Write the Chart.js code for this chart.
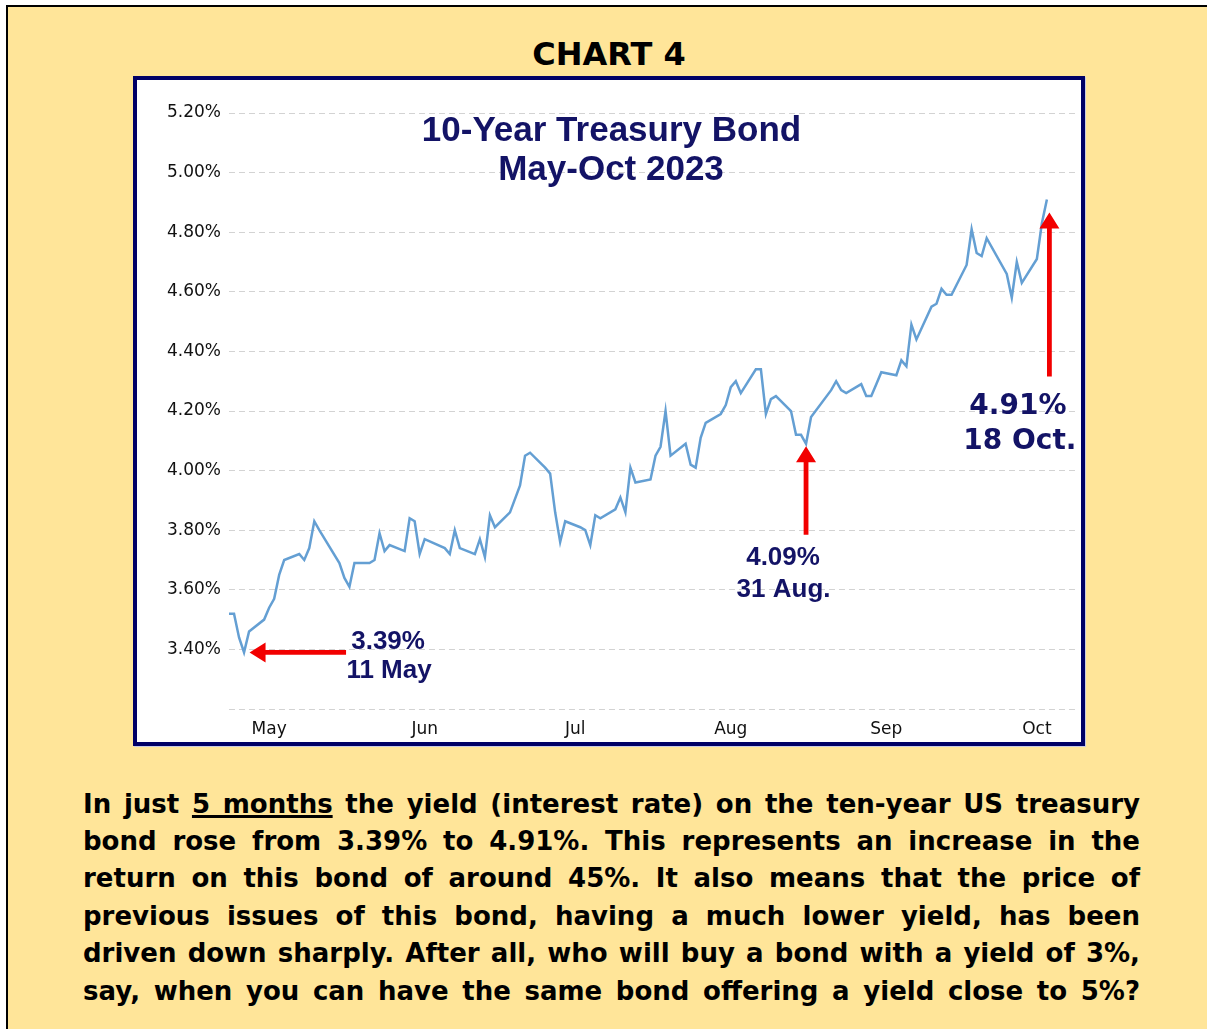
<!DOCTYPE html>
<html>
<head>
<meta charset="utf-8">
<script src="https://cdn.jsdelivr.net/npm/chart.js@4.4.0/dist/chart.umd.min.js"></script>
<style>
html,body{margin:0;padding:0;background:#fff;}
body{width:1207px;height:1029px;position:relative;overflow:hidden;}
#page{position:absolute;left:6px;top:5px;width:1230px;height:1050px;background:#FFE599;border:2.5px solid #000;box-sizing:border-box;}
#heading{position:absolute;left:0;top:34px;width:1218px;text-align:center;font:bold 32px "DejaVu Sans",Verdana,sans-serif;line-height:40px;color:#000;}
#frame{position:absolute;left:133px;top:76px;width:952px;height:670px;box-sizing:border-box;border:4px solid #000066;background:#fff;box-shadow:1px 1px 0 #c9cbe3;}
#frame canvas{display:block;}
#text{position:absolute;left:83px;top:785.6px;width:1057px;font:bold 26px "DejaVu Sans",Verdana,sans-serif;line-height:37.4px;color:#000;}
#text div{text-align:justify;text-align-last:justify;}
#text u{text-decoration-thickness:2.5px;text-underline-offset:2px;}
</style>
</head>
<body>
<div id="page"></div>
<div id="heading">CHART 4</div>
<div id="frame"><canvas id="c" width="944" height="662"></canvas></div>
<div id="text">
<div>In just <u>5 months</u> the yield (interest rate) on the ten-year US treasury</div>
<div>bond rose from 3.39% to 4.91%. This represents an increase in the</div>
<div>return on this bond of around 45%. It also means that the price of</div>
<div>previous issues of this bond, having a much lower yield, has been</div>
<div>driven down sharply. After all, who will buy a bond with a yield of 3%,</div>
<div>say, when you can have the same bond offering a yield close to 5%?</div>
</div>
<script>
// ---- data (2023, MM-DD) ----
const dates = [
 '05-08','05-09','05-10','05-11','05-12','05-15','05-16','05-17','05-18','05-19',
 '05-22','05-23','05-24','05-25','05-26','05-30','05-31','06-01','06-02','06-05',
 '06-06','06-07','06-08','06-09','06-12','06-13','06-14','06-15','06-16','06-20',
 '06-21','06-22','06-23','06-26','06-27','06-28','06-29','06-30','07-03','07-05',
 '07-06','07-07','07-10','07-11','07-12','07-13','07-14','07-17','07-18','07-19',
 '07-20','07-21','07-24','07-25','07-26','07-27','07-28','07-31','08-01','08-02',
 '08-03','08-04','08-07','08-08','08-09','08-10','08-11','08-14','08-15','08-16',
 '08-17','08-18','08-21','08-22','08-23','08-24','08-25','08-28','08-29','08-30',
 '08-31','09-01','09-05','09-06','09-07','09-08','09-11','09-12','09-13','09-14',
 '09-15','09-18','09-19','09-20','09-21','09-22','09-25','09-26','09-27','09-28',
 '09-29','10-02','10-03','10-04','10-05','10-06','10-10','10-11','10-12','10-13',
 '10-16','10-17','10-18'
];
const yields = [
 3.52,3.52,3.44,3.39,3.46,3.50,3.54,3.57,3.65,3.70,
 3.72,3.70,3.74,3.83,3.80,3.69,3.64,3.61,3.69,3.69,
 3.70,3.79,3.73,3.75,3.73,3.84,3.83,3.72,3.77,3.74,
 3.72,3.80,3.74,3.72,3.77,3.71,3.85,3.81,3.86,3.95,
 4.05,4.06,4.01,3.99,3.86,3.76,3.83,3.81,3.80,3.75,
 3.85,3.84,3.87,3.91,3.86,4.01,3.96,3.97,4.05,4.08,
 4.20,4.05,4.09,4.02,4.01,4.11,4.16,4.19,4.22,4.28,
 4.30,4.26,4.34,4.34,4.19,4.24,4.25,4.20,4.12,4.12,
 4.09,4.18,4.27,4.30,4.27,4.26,4.29,4.25,4.25,4.29,
 4.33,4.32,4.37,4.35,4.49,4.44,4.55,4.56,4.61,4.59,
 4.59,4.69,4.81,4.73,4.72,4.78,4.66,4.58,4.70,4.63,
 4.71,4.83,4.91
];
const monthTickDates = ['05-16','06-16','07-16','08-16','09-16','10-16'];
const monthLabels = ['May','Jun','Jul','Aug','Sep','Oct'];
const yTickMin = 3.2, yTickMax = 5.2, yTickStep = 0.2;
const titleLines = ['10-Year Treasury Bond','May-Oct 2023'];
const annoDates = ['05-11','08-31','10-18'];
const annoValues = [3.39, 4.09, 4.91];
const annoText = [['3.39%','11 May'],['4.09%','31 Aug.'],['4.91%','18 Oct.']];

function doy(s){const [m,d]=s.split('-').map(Number);return (Date.UTC(2023,m-1,d)-Date.UTC(2023,0,0))/864e5;}
const points = dates.map((d,i)=>({x:doy(d),y:yields[i]}));

const NAVY = '#131366';
const RED = '#f20000';

function arrow(ctx,x1,y1,x2,y2,w,hl,hw){
  const ang=Math.atan2(y2-y1,x2-x1);
  const len=Math.hypot(x2-x1,y2-y1);
  ctx.save();
  ctx.translate(x2,y2);ctx.rotate(ang);
  ctx.fillStyle=RED;
  ctx.beginPath();
  ctx.moveTo(0,0);ctx.lineTo(-hl,-hw);ctx.lineTo(-hl,-w/2);ctx.lineTo(-len,-w/2);
  ctx.lineTo(-len,w/2);ctx.lineTo(-hl,w/2);ctx.lineTo(-hl,hw);ctx.closePath();
  ctx.fill();
  ctx.restore();
}

const annoPlugin = {
  id:'annoPlugin',
  afterDatasetsDraw(chart){
    const {ctx,scales:{x,y},chartArea:a}=chart;
    ctx.save();
    ctx.fillStyle=NAVY;ctx.textAlign='center';ctx.textBaseline='alphabetic';
    ctx.font='bold 35px "Liberation Sans", Arial, sans-serif';
    ctx.fillText(titleLines[0], a.left+382.5, a.top+27.5);
    ctx.fillText(titleLines[1], a.left+382, a.top+66.5);
    // layout of the three callouts
    const L = [
      {tip:[5.5,0],tail:[102,0],t1:[144,-3],t2:[145,26],font:'bold 26px "Liberation Sans", Arial, sans-serif'},
      {tip:[0,2.5],tail:[0,91],t1:[-23,121],t2:[-22.5,153],font:'bold 26px "Liberation Sans", Arial, sans-serif'},
      {tip:[2.5,13],tail:[2.5,177],t1:[-29,215],t2:[-27,250],font:'bold 28px "DejaVu Sans", Verdana, sans-serif'}
    ];
    annoDates.forEach((d,i)=>{
      const px=x.getPixelForValue(doy(d)), py=y.getPixelForValue(annoValues[i]);
      const o=L[i];
      arrow(ctx,px+o.tail[0],py+o.tail[1],px+o.tip[0],py+o.tip[1],4.8,16,10);
      ctx.fillStyle=NAVY;ctx.font=o.font;
      ctx.fillText(annoText[i][0],px+o.t1[0],py+o.t1[1]);
      ctx.fillText(annoText[i][1],px+o.t2[0],py+o.t2[1]);
    });
    ctx.restore();
  }
};

new Chart(document.getElementById('c'),{
  type:'line',
  data:{datasets:[{data:points,borderColor:'#649fd3',borderWidth:2.5,pointRadius:0,tension:0,fill:false}]},
  options:{
    responsive:false,animation:false,
    plugins:{legend:{display:false},tooltip:{enabled:false}},
    layout:{padding:{top:33,right:5,left:0,bottom:0}},
    scales:{
      x:{type:'linear',min:128,max:296.8,
        grid:{display:false,drawTicks:false},border:{display:false},
        afterBuildTicks:s=>{s.ticks=monthTickDates.map(d=>({value:doy(d)}));},
        afterFit:s=>{s.height=33;},
        ticks:{autoSkip:false,maxRotation:0,padding:10,color:'#111',
          font:{family:'"DejaVu Sans", Verdana, sans-serif',size:17},
          callback:(v,i)=>monthLabels[i]}
      },
      y:{min:yTickMin,max:yTickMax,
        afterFit:s=>{s.width=92;},
        grid:{color:'#d3d3d3',lineWidth:1,drawTicks:false},
        border:{display:false,dash:[6,4]},
        ticks:{stepSize:yTickStep,padding:8,color:'#111',
          font:{family:'"DejaVu Sans", Verdana, sans-serif',size:17},
          callback:v=>Math.abs(v-yTickMin)<1e-6?'':v.toFixed(2)+'%'}
      }
    }
  },
  plugins:[annoPlugin]
});
</script>
</body>
</html>
